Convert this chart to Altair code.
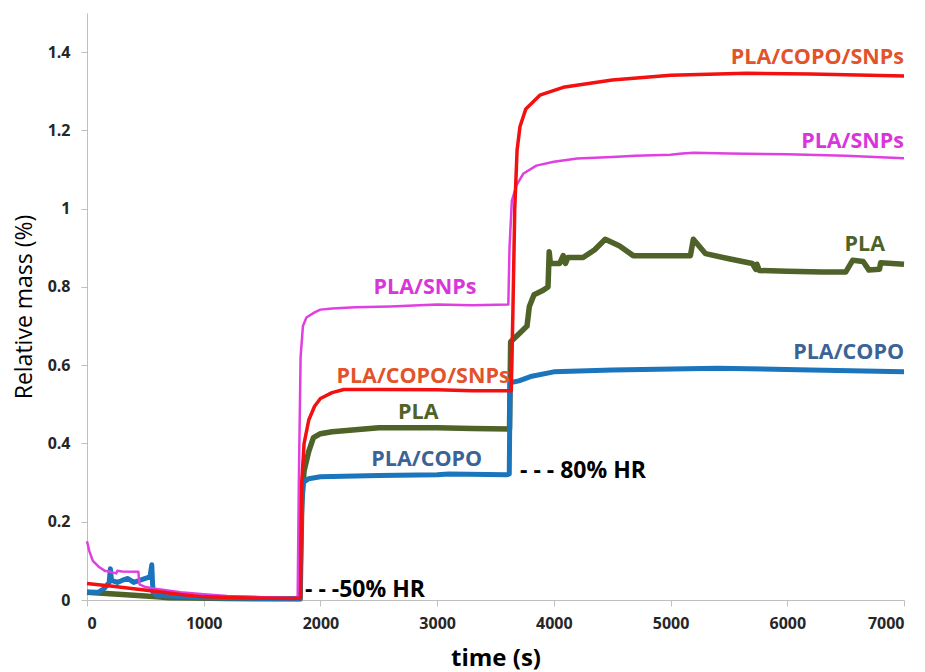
import altair as alt
import pandas as pd

# ---- data: time (s) / relative mass (%) ----
pla_t = [0, 100, 200, 300, 400, 500, 600, 700, 900, 1200, 1500, 1825, 1840, 1860, 1900, 1940, 2000, 2100,
         2300, 2500, 2800, 3000, 3300, 3620, 3630, 3700, 3770, 3790, 3830, 3900, 3950, 3960, 3970, 4050,
         4080, 4100, 4120, 4250, 4350, 4440, 4560, 4680, 5000, 5170, 5195, 5300, 5500, 5700, 5730, 5740,
         5760, 6000, 6300, 6500, 6560, 6650, 6700, 6790, 6800, 7000]
pla_v = [0.02, 0.018, 0.016, 0.014, 0.012, 0.01, 0.008, 0.006, 0.005, 0.004, 0.003, 0.003, 0.25, 0.33, 0.38,
         0.415, 0.425, 0.43, 0.435, 0.44, 0.44, 0.44, 0.438, 0.437, 0.66, 0.68, 0.70, 0.75, 0.78, 0.79,
         0.80, 0.89, 0.86, 0.86, 0.88, 0.86, 0.875, 0.875, 0.895, 0.922, 0.905, 0.88, 0.88, 0.88, 0.922,
         0.885, 0.872, 0.86, 0.845, 0.858, 0.842, 0.84, 0.838, 0.838, 0.868, 0.865, 0.843, 0.845, 0.862,
         0.858]

copo_t = [0, 100, 150, 190, 200, 210, 260, 300, 350, 400, 450, 500, 540, 555, 565, 600, 1000, 1500, 1825,
          1835, 1850, 1900, 2000, 2500, 3000, 3100, 3600, 3618, 3625, 3700, 3800, 4000, 4500, 5400, 6200,
          7000]
copo_v = [0.02, 0.02, 0.03, 0.045, 0.08, 0.05, 0.045, 0.05, 0.055, 0.045, 0.05, 0.055, 0.06, 0.09, 0.02,
          0.012, 0.006, 0.004, 0.003, 0.2, 0.3, 0.31, 0.315, 0.318, 0.32, 0.322, 0.32, 0.322, 0.555, 0.56,
          0.571, 0.583, 0.588, 0.592, 0.588, 0.583]

snps_t = [0, 20, 50, 100, 150, 200, 250, 260, 300, 440, 450, 500, 600, 800, 1000, 1200, 1500, 1805, 1815,
          1830, 1850, 1880, 1950, 2000, 2100, 2300, 2600, 3000, 3300, 3610, 3620, 3640, 3680, 3740, 3850,
          4000, 4200, 4500, 4700, 5000, 5100, 5200, 5500, 6000, 6500, 7000]
snps_v = [0.15, 0.125, 0.10, 0.085, 0.075, 0.072, 0.068, 0.075, 0.073, 0.072, 0.04, 0.033, 0.028, 0.02,
          0.015, 0.01, 0.007, 0.005, 0.3, 0.62, 0.70, 0.722, 0.735, 0.742, 0.745, 0.748, 0.75, 0.755, 0.753,
          0.755, 0.9, 1.02, 1.06, 1.09, 1.11, 1.12, 1.128, 1.132, 1.135, 1.138, 1.141, 1.143, 1.141, 1.139,
          1.135, 1.129]

cs_t = [0, 200, 400, 620, 800, 1000, 1400, 1770, 1830, 1840, 1860, 1900, 1950, 2000, 2100, 2200, 2500, 3000,
        3300, 3635, 3650, 3665, 3685, 3710, 3760, 3880, 4080, 4500, 5000, 5650, 6200, 7000]
cs_v = [0.042, 0.036, 0.029, 0.021, 0.014, 0.008, 0.005, 0.004, 0.005, 0.30, 0.40, 0.46, 0.495, 0.515, 0.53,
        0.538, 0.538, 0.537, 0.535, 0.535, 0.75, 1.0, 1.15, 1.21, 1.255, 1.29, 1.31, 1.329, 1.341, 1.346,
        1.344, 1.339]

series_names = ["PLA", "PLA/COPO", "PLA/SNPs", "PLA/COPO/SNPs"]
series_data = [(pla_t, pla_v), (copo_t, copo_v), (snps_t, snps_v), (cs_t, cs_v)]
series_colors = ["#4F6228", "#1B75BC", "#E040E0", "#F21010"]
series_widths = [5.5, 5, 2.5, 3.5]

# curve labels
lab_text = ["PLA/SNPs", "PLA/COPO/SNPs", "PLA", "PLA/COPO"]
lab_colors = ["#D936D9", "#E2532B", "#4F6228", "#3B6396"]
mid_t = [2896, 2879, 2839, 2911]
mid_v = [0.796, 0.571, 0.477, 0.358]
right_t = [7000, 7000, 6838, 7000]
right_v = [1.171, 1.384, 0.907, 0.630]

note_text = ["- - -50% HR", "- - - 80% HR"]
note_t = [1868, 3710]
note_v = [0.026, 0.329]

y_ticks = [0, 0.2, 0.4, 0.6, 0.8, 1.0, 1.2, 1.4]
x_ticks = [0, 1000, 2000, 3000, 4000, 5000, 6000, 7000]

FONT = "Open Sans"

xscale = alt.Scale(domain=[0, 7000], nice=False)
yscale = alt.Scale(domain=[0, 1.5], nice=False)

xaxis = alt.Axis(values=x_ticks, format="d", title="time (s)", titleFontWeight="bold",
                 titleFontSize=24, titlePadding=15, labelPadding=9)
yaxis = alt.Axis(values=y_ticks, format="~g", title="Relative mass (%)", titleFontWeight="normal",
                 titleFontSize=23, titlePadding=11, labelPadding=11)

layers = []
for name, (t, v), col, w in zip(series_names, series_data, series_colors, series_widths):
    df = pd.DataFrame({"t": t, "v": v, "i": list(range(len(t))), "s": name})
    layers.append(
        alt.Chart(df).mark_line(color=col, strokeWidth=w, strokeJoin="round").encode(
            x=alt.X("t:Q", scale=xscale, axis=xaxis),
            y=alt.Y("v:Q", scale=yscale, axis=yaxis),
            order="i:Q",
        )
    )

mid_df = pd.DataFrame({"t": mid_t, "v": mid_v, "label": lab_text, "c": lab_colors})
right_df = pd.DataFrame({"t": right_t, "v": right_v, "label": lab_text, "c": lab_colors})
note_df = pd.DataFrame({"t": note_t, "v": note_v, "label": note_text})

mid_layer = alt.Chart(mid_df).mark_text(font=FONT, fontSize=21.5, fontWeight="bold", align="center",
                                        baseline="middle").encode(
    x=alt.X("t:Q", scale=xscale), y=alt.Y("v:Q", scale=yscale),
    text="label:N", color=alt.Color("c:N", scale=None))
right_layer = alt.Chart(right_df).mark_text(font=FONT, fontSize=21.5, fontWeight="bold", align="right",
                                            baseline="middle").encode(
    x=alt.X("t:Q", scale=xscale), y=alt.Y("v:Q", scale=yscale),
    text="label:N", color=alt.Color("c:N", scale=None))
note_layer = alt.Chart(note_df).mark_text(font=FONT, fontSize=23, fontWeight="bold", align="left",
                                          baseline="middle", color="#000000").encode(
    x=alt.X("t:Q", scale=xscale), y=alt.Y("v:Q", scale=yscale), text="label:N")

chart = alt.layer(*layers, mid_layer, right_layer, note_layer).properties(
    width=817, height=587,
    padding={"left": 79, "top": 5, "right": 13, "bottom": 72},
    autosize=alt.AutoSizeParams(type="none"),
    background="white",
).configure_view(stroke=None).configure_axis(
    grid=False, domainColor="#BFBFBF", tickColor="#BFBFBF", tickSize=6,
    labelFont=FONT, labelFontSize=16, labelFontWeight="bold", labelColor="#262626",
    titleFont=FONT, titleColor="#000000",
)

chart.save("out.html", embed_options={"renderer": "svg", "actions": False})
